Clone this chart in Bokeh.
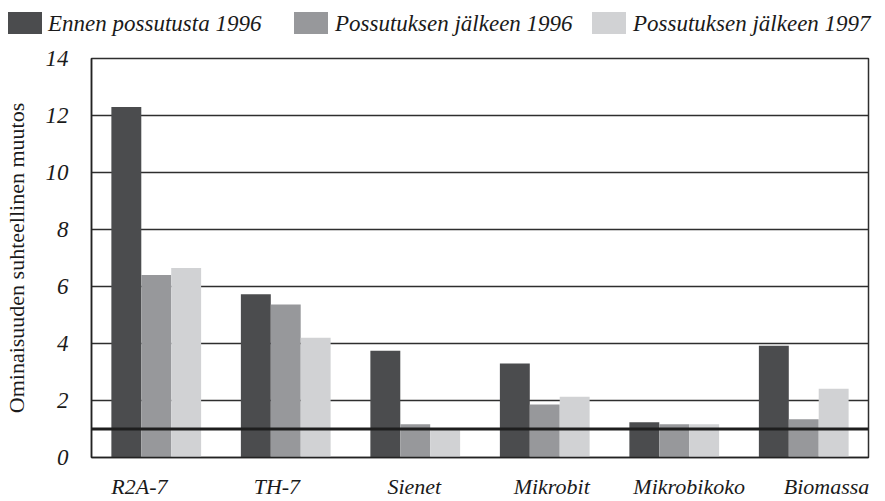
import numpy as np
from bokeh.plotting import figure
from bokeh.layouts import column
from bokeh.models import (ColumnDataSource, Range1d, LinearAxis, Div,
                          FixedTicker, Span)
from bokeh.embed import file_html
from bokeh.resources import INLINE

# ---- data ----
categories = ["R2A-7", "TH-7", "Sienet", "Mikrobit", "Mikrobikoko", "Biomassa"]
series_names = ["Ennen possutusta 1996", "Possutuksen jälkeen 1996", "Possutuksen jälkeen 1997"]
before_1996 = [12.3, 5.73, 3.75, 3.3, 1.24, 3.92]
after_1996 = [6.4, 5.37, 1.17, 1.86, 1.17, 1.34]
after_1997 = [6.65, 4.2, 1.0, 2.13, 1.17, 2.41]
y_ticks = [0, 2, 4, 6, 8, 10, 12, 14]
reference_level = 1.0
y_label = "Ominaisuuden suhteellinen muutos"

colors = ["#4b4c4e", "#97989b", "#d1d2d4"]
FONT = "Liberation Serif"

n = len(categories)
slot = np.arange(n) + 0.5
bw = 0.231
series = [before_1996, after_1996, after_1997]

LEG_H = 45

# ---- legend strip ----
swatch_left = [8, 294, 592]
text_left = [48, 335, 633]
parts = []
for i in range(3):
    parts.append(
        f'<span style="position:absolute;left:{swatch_left[i]}px;top:12px;width:34px;'
        f'height:22px;background:{colors[i]};"></span>'
        f'<span style="position:absolute;left:{text_left[i]}px;top:11px;white-space:nowrap;'
        f'line-height:normal;">{series_names[i]}</span>'
    )
legend_html = (
    f'<div style="position:relative;width:885px;height:{LEG_H}px;background:white;'
    f"font-family:'{FONT}';font-style:italic;font-size:23px;color:#1a1a1a;\">"
    + "".join(parts) + "</div>"
)
legend_div = Div(text=legend_html, width=885, height=LEG_H, margin=(0, 0, 0, 0))

# ---- main chart ----
p = figure(width=885, height=501 - LEG_H, x_range=Range1d(0, n),
           y_range=Range1d(0, 14), output_backend="svg", toolbar_location=None,
           min_border_left=90, min_border_right=17, min_border_top=58 - LEG_H,
           min_border_bottom=36)

for i, vals in enumerate(series):
    src = ColumnDataSource(dict(x=slot + (i - 1) * bw, top=vals))
    p.vbar(x="x", top="top", width=bw, source=src, fill_color=colors[i], line_color=None)

p.add_layout(Span(location=reference_level, dimension="width", line_color="#1e1e1e", line_width=3))

p.xaxis.visible = False
p.extra_x_ranges = {"lab": Range1d(-0.349, 5.305)}
xa = LinearAxis(x_range_name="lab", ticker=FixedTicker(ticks=list(range(n))),
                major_label_overrides={i: c for i, c in enumerate(categories)})
xa.major_tick_line_color = None
xa.minor_tick_line_color = None
xa.major_label_standoff = 10
xa.axis_line_color = "#222222"
xa.axis_line_width = 1.5
xa.major_label_text_font = FONT
xa.major_label_text_font_style = "italic"
xa.major_label_text_font_size = "22px"
xa.major_label_text_color = "#1a1a1a"
p.add_layout(xa, "below")

ya = p.yaxis[0]
ya.ticker = FixedTicker(ticks=y_ticks)
ya.major_tick_line_color = None
ya.minor_tick_line_color = None
ya.major_label_standoff = 17
ya.axis_line_color = "#222222"
ya.axis_line_width = 1.5
ya.major_label_text_font = FONT
ya.major_label_text_font_style = "italic"
ya.major_label_text_font_size = "23px"
ya.major_label_text_color = "#1a1a1a"
ya.axis_label = y_label
ya.axis_label_text_font = FONT
ya.axis_label_text_font_style = "normal"
ya.axis_label_text_font_size = "22px"
ya.axis_label_text_color = "#1a1a1a"
ya.axis_label_standoff = 14

p.xgrid.visible = False
p.ygrid.grid_line_color = "#2e2e2e"
p.ygrid.grid_line_width = 1.5
p.ygrid.ticker = FixedTicker(ticks=y_ticks)
p.outline_line_color = "#2e2e2e"
p.outline_line_width = 1.5
p.background_fill_color = "white"
p.border_fill_color = "white"

layout = column(legend_div, p, spacing=0)
open("out.html", "w").write(file_html(layout, INLINE))
